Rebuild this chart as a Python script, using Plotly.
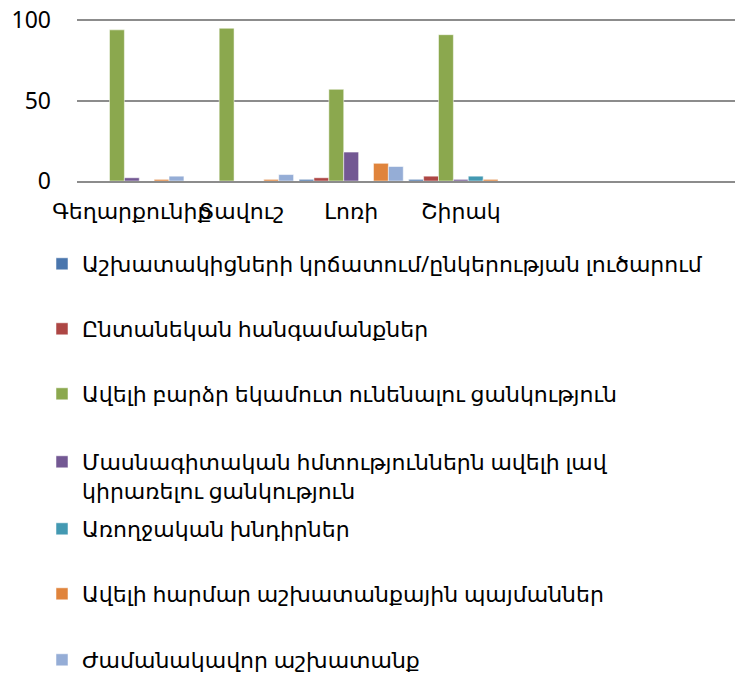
import plotly.graph_objects as go

categories = ["Գեղարքունիք", "Տավուշ", "Լոռի", "Շիրակ"]
series_names = [
    "Աշխատակիցների կրճատում/ընկերության լուծարում",
    "Ընտանեկան հանգամանքներ",
    "Ավելի բարձր եկամուտ ունենալու ցանկություն",
    "Մասնագիտական հմտություններն ավելի լավ<br>կիրառելու ցանկություն",
    "Առողջական խնդիրներ",
    "Ավելի հարմար աշխատանքային պայմաններ",
    "Ժամանակավոր աշխատանք",
]
values_layoffs = [0, 0, 1, 1]
values_family = [0, 0, 2, 3]
values_income = [94, 95, 57, 91]
values_skills = [2, 0, 18, 1]
values_health = [0, 0, 0, 3]
values_conditions = [1, 1, 11, 1]
values_temporary = [3, 4, 9, 0]
series_values = [values_layoffs, values_family, values_income, values_skills,
                 values_health, values_conditions, values_temporary]
colors = ["#4A76AD", "#AD4644", "#8BA84E", "#735893", "#4399B2", "#E0843C", "#95ADD6"]
y_ticks = [0, 50, 100]

W, H = 744, 675
MT, MB, ML, MR = 9, 502, 69, 17
legend_centers = [265, 330, 395, 463, 530, 595, 661]
FONT = "Noto Sans, DejaVu Sans, sans-serif"

fig = go.Figure()
for i, (name, vals, col) in enumerate(zip(series_names, series_values, colors)):
    fig.add_trace(go.Bar(
        x=categories, y=vals, name=name, legend=f"legend{i+2}",
        marker=dict(color=col, line=dict(color="rgba(255,255,255,0.5)", width=1)),
    ))

layout_legends = {}
for i, yc in enumerate(legend_centers):
    ytop = yc - 30
    layout_legends[f"legend{i+2}"] = dict(
        xref="container", yref="container",
        x=34 / W, y=1 - ytop / H,
        xanchor="left", yanchor="top",
        valign="top",
        font=dict(family=FONT, size=22, color="#000"),
        bgcolor="rgba(0,0,0,0)", itemwidth=30,
    )

fig.update_layout(
    width=W, height=H,
    margin=dict(l=ML, r=MR, t=MT, b=MB, autoexpand=False),
    plot_bgcolor="white", paper_bgcolor="white",
    showlegend=True,
    barmode="group", bargap=0.05, bargroupgap=0,
    font=dict(family=FONT, size=22, color="#000"),
    xaxis=dict(range=[-0.5, 5.5], showgrid=False, showline=True, linecolor="#8C8C8C",
               linewidth=2, ticks="", tickfont=dict(size=22), ticklabelstandoff=10,
               tickangle=0, automargin=False),
    yaxis=dict(range=[0, 102], tickvals=y_ticks, showgrid=True, gridcolor="#8C8C8C",
               gridwidth=2, zeroline=False, showline=False, ticks="",
               tickfont=dict(size=23), ticklabelstandoff=25, automargin=False,
               ticklabeloverflow="allow"),
    **layout_legends,
)

fig.write_html("out.html")
